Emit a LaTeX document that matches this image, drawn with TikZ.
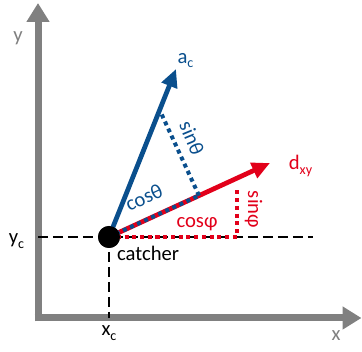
\documentclass[tikz,border=0pt]{standalone}
\usepackage{fontspec}
\setmainfont{Carlito}
\usepackage{xcolor}
\definecolor{axis-gray}{HTML}{808080}
\definecolor{vec-blue}{HTML}{0A4F8D}
\definecolor{vec-red}{HTML}{E2001A}
\usetikzlibrary{arrows.meta,calc}
\newcommand{\lowsub}[1]{\raisebox{-0.5ex}{\fontsize{16}{18}\selectfont #1}}
\tikzset{
    axisline/.style={axis-gray, line width=0.28cm, -{Triangle[length=0.76cm, width=0.88cm]}},
    vecline/.style={line width=0.19cm, -{Triangle[length=0.72cm, width=0.64cm]}},
    dotline/.style={line width=0.16cm, dash pattern=on 0.16cm off 0.15cm},
    guideline/.style={black, line width=0.1cm, dash pattern=on 0.4cm off 0.2cm},
    lbl/.style={font=\fontsize{23.5}{27}\selectfont, inner sep=0pt}
}

\begin{document}
\begin{tikzpicture}

    % Frame
    \useasboundingbox (-1.52, -1.36) rectangle (12.96, 12.72);

    % Axes
    \coordinate (origin) at (0, 0);
    \coordinate (xend) at (12.94, 0);
    \coordinate (yend) at (0, 12.6);
    \draw[axisline] ($(origin)+(-0.14,0)$) -- (xend);
    \draw[axisline] ($(origin)+(0,-0.14)$) -- (yend);
    \node[lbl, axis-gray] (xlabel) at (11.92, -0.72) {x};
    \node[lbl, axis-gray] (ylabel) at (-0.8, 11.2) {y};

    % Catcher
    \node[circle, fill=black, minimum size=0.88cm, inner sep=0pt] (catcher) at (2.84, 3.24) {};
    \coordinate (yc) at (0, 3.24);
    \coordinate (hend) at (11.0, 3.24);
    \coordinate (xc) at (2.84, 0);

    % Dashed guides
    \draw[guideline] (yc) -- (hend);
    \draw[guideline] (catcher.center) -- (xc);

    % Vectors
    \coordinate (atip) at (5.52, 9.96);
    \coordinate (dtip) at (9.28, 6.2);
    \draw[vecline, vec-blue] (catcher.center) -- (atip);
    \draw[vecline, vec-red] (catcher.center) -- (dtip);

    % Blue projection
    \coordinate (ponblue) at ($(catcher.center)!0.756!(atip)$);
    \coordinate (foot) at ($(catcher.center)!(ponblue)!(dtip)$);
    \draw[dotline, vec-blue] (catcher.center) -- (foot);
    \draw[dotline, vec-blue] (foot) -- (ponblue);

    % Red projection
    \coordinate (sintop) at (7.96, 5.1);
    \coordinate (cosend) at (7.96, 3.24);
    \draw[dotline, vec-red] (catcher.center) -- (cosend);
    \draw[dotline, vec-red] (sintop) -- (cosend);

    % Catcher on top
    \fill[black] (catcher) circle (0.44);

    % Labels
    \node[lbl] (yclabel) at (-0.86, 3.08) {y\lowsub{c}};
    \node[lbl] (xclabel) at (2.84, -0.6) {x\lowsub{c}};
    \node[lbl, anchor=north west] (catcherlabel) at (3.16, 2.9) {catcher};
    \node[lbl, vec-blue] (alabel) at (5.9, 10.3) {a\lowsub{c}};
    \node[lbl, vec-red] (dlabel) at (10.5, 6.08) {d\lowsub{xy}};
    \node[lbl, vec-blue, rotate=24.7] (costheta) at (4.24, 4.82) {cosθ};
    \node[lbl, vec-blue, rotate=-67.5] (sintheta) at (6.16, 7.2) {sinθ};
    \node[lbl, vec-red] (cosphi) at (6.36, 3.74) {cosφ};
    \node[lbl, vec-red, rotate=-90] (sinphi) at (8.62, 4.34) {sinφ};

\end{tikzpicture}
\end{document}
